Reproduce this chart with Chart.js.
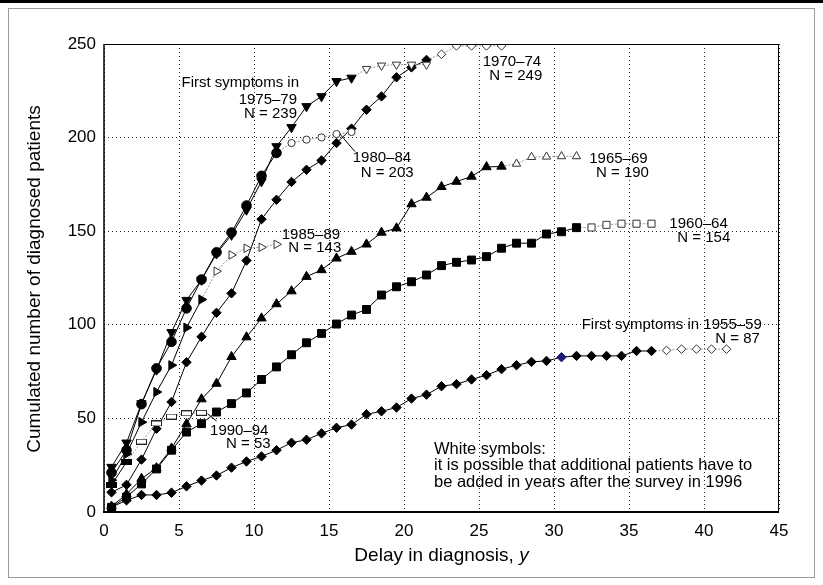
<!DOCTYPE html>
<html><head><meta charset="utf-8">
<script src="https://cdn.jsdelivr.net/npm/chart.js@4.4.0/dist/chart.umd.min.js"></script>
<style>html,body{margin:0;padding:0;background:#fff}#wrap{width:823px;height:585px;position:relative}canvas{display:block}</style>
</head><body><div id="wrap"><canvas id="c" width="823" height="585"></canvas></div>
<script>
// Delay in diagnosis (years) at which each cumulative count is plotted
const delays = [0.5,1.5,2.5,3.5,4.5,5.5,6.5,7.5,8.5,9.5,10.5,11.5,12.5,13.5,14.5,15.5,16.5,17.5,18.5,19.5,20.5,21.5,22.5,23.5,24.5,25.5,26.5,27.5,28.5,29.5,30.5,31.5,32.5,33.5,34.5,35.5,36.5,37.5,38.5,39.5,40.5,41.5];
const xTicks = [0,5,10,15,20,25,30,35,40,45];
const yTicks = [0,50,100,150,200,250];

// Cumulated number of diagnosed patients, by period of first symptoms
// "Known" = black symbols, "Open" = white symbols (more patients may be added)
const c5559Known = [2.6,6.2,9.1,9.1,10.3,13.7,16.8,19.5,23.7,27,29.7,33,37,38.6,42,45,46.7,52.2,53.8,55.8,60.6,62.7,67.2,68.3,70.8,73.1,76.3,78.4,80.2,80.7,82.7,83.4,83.4,83.4,83.4,86,86];
const c5559Open  = [86.3,87,87,87,87];
const c6064Known = [2.5,8,15,23,33,42.7,47.2,53.4,57.9,63.6,70.8,77.5,84,90.4,95.4,100.4,105.2,108.2,115.9,120.3,123,126.6,131.6,133.4,134.6,136.4,140.9,143.6,143.6,148.5,149.7,151.9];
const c6064Open  = [152,153.4,154,154,154];
const c6569Known = [3,9.5,17.8,23.5,34,47,60.3,68.6,82.9,93.4,103.5,111.1,118,125.7,129.3,135.5,139.1,143,149.3,151.6,164.5,168,173.7,176.5,179.2,184.3,184.6];
const c6569Open  = [186,189.6,189.8,190,190];
const c7074Known = [10.5,14.5,28,44.5,58.8,80,93.6,106.4,116.8,134.3,156.4,166.8,176.3,182.8,187.8,197.1,204.8,214.9,222,232.2,237.5,241.5];
const c7074Open  = [244.5,249,249,249,249];
const c7579Known = [24,37,58,76,96,113.2,124,138,148,161.4,176.6,195.3,205.5,216.7,222,230.1,231.9];
const c7579Open  = [236.7,238.5,239,239,239];
const c8084Known = [21,33,57.6,76.7,90.9,108.8,124.2,138.7,149.3,163.7,179.6,191.8];
const c8084Open  = [197.1,198.9,200.1,201.9,203];
const c8589Known = [17,31,48,64.1,78.4,98.5,113.5];
const c8589Open  = [128.6,137.3,140.9,141.4,143];
const c9094Known = [14.5,26.7];
const c9094Open  = [37.6,47.3,51,52.7,53];

const FONT = "'Liberation Sans', Arial, Helvetica, sans-serif";

function rectCanvas(fill){
  const cv = document.createElement('canvas');
  cv.width = 11; cv.height = 6;
  const g = cv.getContext('2d');
  g.fillStyle = fill ? '#000' : '#fff';
  g.fillRect(0.5,0.5,10,5);
  g.strokeStyle = fill ? '#000' : '#222';
  g.lineWidth = 1;
  g.strokeRect(0.5,0.5,10,5);
  return cv;
}
const rectBlack = rectCanvas(true), rectWhite = rectCanvas(false);

function cohort(label, known, open, style, rot, rK, rO, special){
  const vals = known.concat(open);
  const nK = known.length;
  return {
    label,
    data: vals.map((v,i)=>({x: delays[i], y: v})),
    borderColor: '#000',
    borderWidth: 1,
    tension: 0,
    fill: false,
    pointStyle: vals.map((v,i)=> style === 'wide' ? (i<nK ? rectBlack : rectWhite) : style),
    pointRotation: rot,
    pointRadius: vals.map((v,i)=> i<nK ? rK : rO),
    pointHoverRadius: vals.map((v,i)=> i<nK ? rK : rO),
    pointBackgroundColor: vals.map((v,i)=> (special && special[i]) ? special[i] : (i<nK ? '#000' : '#fff')),
    pointBorderColor: vals.map((v,i)=> (special && special[i]) ? special[i] : (i<nK ? '#000' : '#333')),
    pointBorderWidth: 1,
    segment: {
      borderColor: c => c.p1DataIndex >= nK ? '#9a9a9a' : '#000',
      borderDash: c => c.p1DataIndex >= nK ? [2,1.5] : []
    }
  };
}

const blue = {30: '#1b1b78'};
const datasets = [
  cohort('1990–94', c9094Known, c9094Open, 'wide', 0, 5, 5),
  cohort('1985–89', c8589Known, c8589Open, 'triangle', 90, 5.3, 4.9),
  cohort('1980–84', c8084Known, c8084Open, 'circle', 0, 4.8, 3.6),
  cohort('1975–79', c7579Known, c7579Open, 'triangle', 180, 5.4, 4.9),
  cohort('1970–74', c7074Known, c7074Open, 'rectRot', 0, 4.7, 4.3),
  cohort('1965–69', c6569Known, c6569Open, 'triangle', 0, 5.4, 4.8),
  cohort('1960–64', c6064Known, c6064Open, 'rect', 0, 5.6, 5.0),
  cohort('1955–59', c5559Known, c5559Open, 'rectRot', 0, 4.7, 4.3, blue)
];

const labels = [
  {t:'First symptoms in', x:13.0, y:227.2, a:'right', s:15},
  {t:'1975–79', x:12.87, y:217.95, a:'right', s:15},
  {t:'N = 239', x:12.87, y:210.63, a:'right', s:15},
  {t:'1970–74', x:25.25, y:238.25, a:'left', s:15},
  {t:'N = 249', x:25.69, y:230.77, a:'left', s:15},
  {t:'1980–84', x:16.58, y:187.13, a:'left', s:15},
  {t:'N = 203', x:17.11, y:179.11, a:'left', s:15},
  {t:'1985–89', x:11.85, y:145.67, a:'left', s:15},
  {t:'N = 143', x:12.29, y:139.05, a:'left', s:15},
  {t:'1965–69', x:32.35, y:186.59, a:'left', s:15},
  {t:'N = 190', x:32.8, y:179.11, a:'left', s:15},
  {t:'1960–64', x:37.69, y:151.87, a:'left', s:15},
  {t:'N = 154', x:38.22, y:144.39, a:'left', s:15},
  {t:'First symptoms in 1955–59', x:43.85, y:97.6, a:'right', s:15},
  {t:'N = 87', x:43.73, y:90.12, a:'right', s:15},
  {t:'1990–94', x:7.07, y:41.13, a:'left', s:15},
  {t:'N = 53', x:8.13, y:34.03, a:'left', s:15},
  {t:'White symbols:', x:22.0, y:30.98, a:'left', s:16.5},
  {t:'it is possible that additional patients have to', x:22.0, y:22.17, a:'left', s:16.5},
  {t:'be added in years after the survey in 1996', x:22.0, y:13.35, a:'left', s:16.5}
];
const leaders = [
  [15.73, 201.9, 16.73, 192.5],
  [6.9, 52.5, 7.5, 48.6]
];

const deco = {
  id: 'deco',
  beforeDraw(chart){
    const g = chart.ctx;
    g.save();
    g.fillStyle = '#fff';
    g.fillRect(0,0,chart.width,chart.height);
    g.strokeStyle = '#9a9a9a'; g.lineWidth = 1;
    g.strokeRect(8.5, 8.5, 806, 569);
    g.fillStyle = '#000';
    g.fillRect(0,0,chart.width,3);
    g.restore();
  },
  afterDatasetsDraw(chart){
    const g = chart.ctx, xs = chart.scales.x, ys = chart.scales.y, a = chart.chartArea;
    g.save();
    g.strokeStyle = '#000';
    g.lineWidth = 1;
    g.beginPath();
    g.moveTo(a.left, a.top+0.5); g.lineTo(a.right, a.top+0.5);
    g.moveTo(a.right-0.5, a.top); g.lineTo(a.right-0.5, a.bottom);
    g.stroke();
    g.lineWidth = 2;
    g.beginPath();
    g.moveTo(a.left-1, a.bottom); g.lineTo(a.right, a.bottom);
    g.stroke();
    g.lineWidth = 1.5;
    g.beginPath();
    g.moveTo(a.left, a.top); g.lineTo(a.left, a.bottom);
    g.stroke();
    g.lineWidth = 1;
    leaders.forEach(l => {
      g.beginPath();
      g.moveTo(xs.getPixelForValue(l[0]), ys.getPixelForValue(l[1]));
      g.lineTo(xs.getPixelForValue(l[2]), ys.getPixelForValue(l[3]));
      g.stroke();
    });
    g.fillStyle = '#000';
    g.textBaseline = 'alphabetic';
    labels.forEach(l => {
      g.font = l.s + 'px ' + FONT;
      g.textAlign = l.a;
      g.fillText(l.t, xs.getPixelForValue(l.x), ys.getPixelForValue(l.y));
    });
    const TS = 19;
    const t1 = 'Delay in diagnosis, ';
    g.font = TS + 'px ' + FONT;
    const w1 = g.measureText(t1).width;
    g.font = 'italic ' + TS + 'px ' + FONT;
    const w2 = g.measureText('y').width;
    const cx = (a.left + a.right)/2;
    const sx = cx - (w1+w2)/2;
    g.textAlign = 'left';
    g.font = TS + 'px ' + FONT;
    g.fillText(t1, sx, 561);
    g.font = 'italic ' + TS + 'px ' + FONT;
    g.fillText('y', sx + w1, 561);
    g.save();
    g.translate(40, (a.top + a.bottom)/2 + 1);
    g.rotate(-Math.PI/2);
    g.textAlign = 'center';
    g.font = TS + 'px ' + FONT;
    g.fillText('Cumulated number of diagnosed patients', 0, 0);
    g.restore();
    g.restore();
  }
};

new Chart(document.getElementById('c'), {
  type: 'line',
  data: { datasets },
  options: {
    responsive: false,
    animation: false,
    events: [],
    layout: { padding: { top: 44, right: 44, left: 0, bottom: 0 } },
    plugins: { legend: { display: false }, tooltip: { enabled: false } },
    scales: {
      x: {
        type: 'linear', min: 0, max: 45,
        afterFit: s => { s.height = 73; },
        afterBuildTicks: s => { s.ticks = xTicks.map(v => ({value: v})); },
        ticks: { font: { family: FONT, size: 17 }, color: '#000', padding: 9, maxRotation: 0, autoSkip: false },
        grid: { color: '#222', lineWidth: 1, drawTicks: false },
        border: { display: false, dash: [1,3] }
      },
      y: {
        type: 'linear', min: 0, max: 250,
        afterFit: s => { s.width = 104; },
        afterBuildTicks: s => { s.ticks = yTicks.map(v => ({value: v})); },
        ticks: { font: { family: FONT, size: 17 }, color: '#000', padding: 8, autoSkip: false },
        grid: { color: '#222', lineWidth: 1, drawTicks: false },
        border: { display: false, dash: [1,3] }
      }
    }
  },
  plugins: [deco]
});
</script>
</body></html>
